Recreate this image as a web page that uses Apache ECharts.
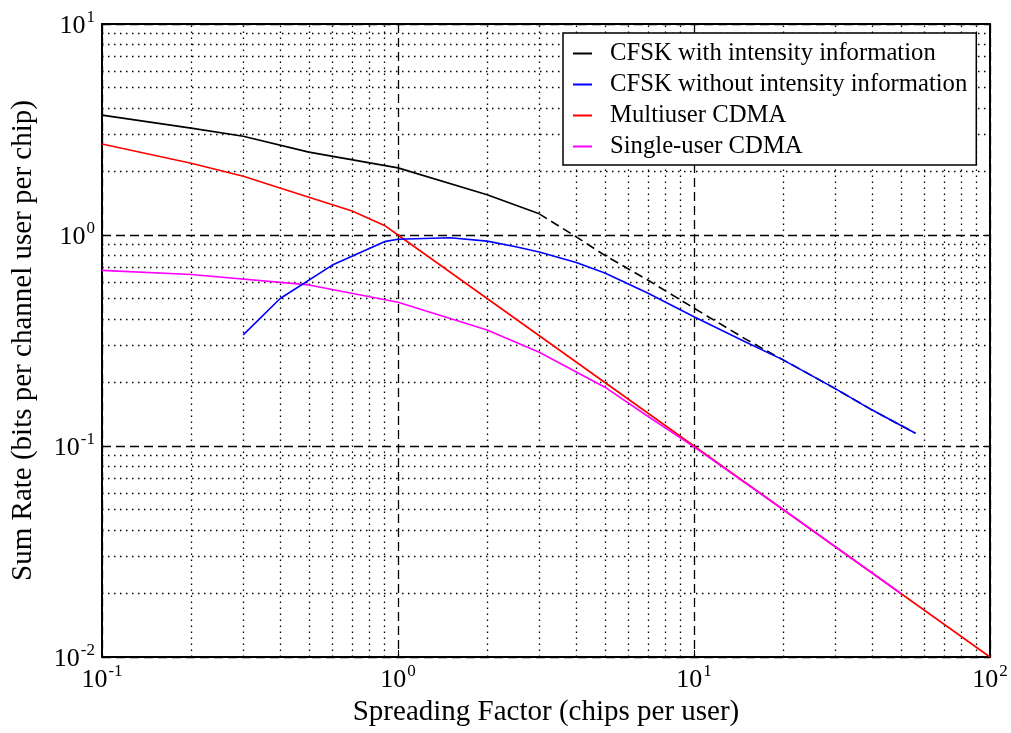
<!DOCTYPE html>
<html>
<head>
<meta charset="utf-8">
<script src="https://cdn.jsdelivr.net/npm/echarts@6/dist/echarts.min.js"></script>
<style>
  html, body { margin: 0; padding: 0; background: #fff; }
  #mychart { width: 1011px; height: 733px; }
</style>
</head>
<body>
<div id="mychart"></div>
<script>
// 讀圖估計的資料
let cfskIntX = [0.1, 0.2, 0.3, 0.5, 1, 2, 3];
let cfskIntY = [3.70, 3.21, 2.94, 2.47, 2.08, 1.55, 1.26];
let cfskIntExtX = [3, 4, 5, 7, 10, 15, 20, 30, 40, 56];
let cfskIntExtY = [1.26, 0.98, 0.80, 0.61, 0.45, 0.32, 0.256, 0.187, 0.148, 0.115];
let cfskNoX = [0.3, 0.4, 0.6, 0.9, 1, 1.5, 2, 2.5, 3, 4, 5, 7, 10, 15, 20, 30, 40, 56];
let cfskNoY = [0.336, 0.50, 0.72, 0.93, 0.955, 0.97, 0.935, 0.88, 0.83, 0.74, 0.66, 0.53, 0.41, 0.31, 0.256, 0.187, 0.148, 0.115];
let multiX = [0.1, 0.2, 0.3, 0.5, 0.7, 0.9, 1, 2, 5, 10, 20, 50, 100];
let multiY = [2.70, 2.19, 1.90, 1.51, 1.30, 1.11, 1.0, 0.5, 0.2, 0.1, 0.05, 0.02, 0.01];
let singleX = [0.1, 0.2, 0.5, 1, 2, 3, 5, 7, 10, 20, 50];
let singleY = [0.68, 0.65, 0.58, 0.48, 0.355, 0.278, 0.19, 0.138, 0.099, 0.05, 0.02];

// 次要格線位置
let minorX = [0.2, 0.3, 0.4, 0.5, 0.6, 0.7, 0.8, 0.9, 2, 3, 4, 5, 6, 7, 8, 9, 20, 30, 40, 50, 60, 70, 80, 90];
let minorY = [0.02, 0.03, 0.04, 0.05, 0.06, 0.07, 0.08, 0.09, 0.2, 0.3, 0.4, 0.5, 0.6, 0.7, 0.8, 0.9, 2, 3, 4, 5, 6, 7, 8, 9];

let names = [
  'CFSK with intensity information',
  'CFSK without intensity information',
  'Multiuser CDMA',
  'Single-user CDMA',
];

let font = 'Liberation Serif';

function pairs(xs, ys) {
  return xs.map((x, i) => [x, ys[i]]);
}

function powLabel(v) {
  let e = Math.round(Math.log10(v));
  return '{b|10}{s|' + e + '}';
}

let labelRich = {
  b: { fontFamily: font, fontSize: 26, color: '#000', verticalAlign: 'bottom', lineHeight: 30 },
  s: { fontFamily: font, fontSize: 17, color: '#000', verticalAlign: 'top', lineHeight: 30, padding: [0, 0, 0, 1] },
};

function logAxis(extra) {
  return Object.assign(
    {
      type: 'log',
      logBase: 10,
      axisLine: { show: true, lineStyle: { color: '#000', width: 2 } },
      axisTick: { show: true, inside: true, length: 7, lineStyle: { color: '#000', width: 1 } },
      splitLine: { show: false },
    },
    extra
  );
}

let option = {
  backgroundColor: '#fff',
  animation: false,
  grid: { left: 102, right: 21, top: 24, bottom: 76, containLabel: false },
  legend: {
    data: names,
    orient: 'vertical',
    left: 563,
    top: 33,
    z: 10,
    icon: 'rect',
    itemWidth: 19,
    itemHeight: 2,
    itemGap: 6,
    padding: [8, 9, 6, 10],
    borderColor: '#000',
    borderWidth: 1.5,
    borderRadius: 0,
    backgroundColor: '#fff',
    selectedMode: false,
    textStyle: {
      fontFamily: font,
      fontSize: 24.7,
      color: '#000',
      padding: [0, 0, 0, 13],
      lineHeight: 24,
    },
  },
  xAxis: [
    logAxis({
      min: 0.1,
      max: 100,
      position: 'bottom',
      name: 'Spreading Factor (chips per user)',
      nameLocation: 'middle',
      nameGap: 40,
      nameTextStyle: { fontFamily: font, fontSize: 29, color: '#000' },
      axisLabel: { formatter: powLabel, rich: labelRich, margin: 6 },
      splitLine: { show: true, lineStyle: { color: '#000', width: 1.3, type: [9, 5] } },
    }),
    logAxis({ min: 0.1, max: 100, position: 'top', axisLabel: { show: false } }),
  ],
  yAxis: [
    logAxis({
      min: 0.01,
      max: 10,
      position: 'left',
      name: 'Sum Rate (bits per channel user per chip)',
      nameLocation: 'middle',
      nameGap: 64,
      nameTextStyle: { fontFamily: font, fontSize: 29, color: '#000' },
      axisLabel: { formatter: powLabel, rich: labelRich, margin: 7 },
      splitLine: { show: true, lineStyle: { color: '#000', width: 1.3, type: [9, 5] } },
    }),
    logAxis({ min: 0.01, max: 10, position: 'right', axisLabel: { show: false } }),
  ],
  series: [
    {
      name: 'minor-grid',
      type: 'line',
      data: [],
      z: 1,
      silent: true,
      markLine: {
        silent: true,
        z: 1,
        symbol: 'none',
        label: { show: false },
        animation: false,
        lineStyle: { color: '#000', width: 1.3, type: [1.5, 4.5] },
        data: minorX.map((v) => ({ xAxis: v })).concat(minorY.map((v) => ({ yAxis: v }))),
      },
    },
    {
      name: names[0],
      type: 'line',
      data: pairs(cfskIntX, cfskIntY),
      symbol: 'none',
      color: '#000',
      lineStyle: { color: '#000', width: 1.6 },
      z: 3,
    },
    {
      name: 'CFSK with intensity information (dashed)',
      type: 'line',
      data: pairs(cfskIntExtX, cfskIntExtY),
      symbol: 'none',
      color: '#000',
      lineStyle: { color: '#000', width: 1.6, type: [9, 5] },
      z: 3,
    },
    {
      name: names[2],
      type: 'line',
      data: pairs(multiX, multiY),
      symbol: 'none',
      color: '#ff0000',
      lineStyle: { color: '#ff0000', width: 1.6 },
      z: 3,
    },
    {
      name: names[3],
      type: 'line',
      data: pairs(singleX, singleY),
      symbol: 'none',
      color: '#ff00ff',
      lineStyle: { color: '#ff00ff', width: 1.6 },
      z: 3,
    },
    {
      name: names[1],
      type: 'line',
      data: pairs(cfskNoX, cfskNoY),
      symbol: 'none',
      color: '#0000ff',
      lineStyle: { color: '#0000ff', width: 1.6 },
      z: 3,
    },
  ],
};

let myChart = echarts.init(document.getElementById('mychart'));
myChart.setOption(option);
</script>
</body>
</html>
